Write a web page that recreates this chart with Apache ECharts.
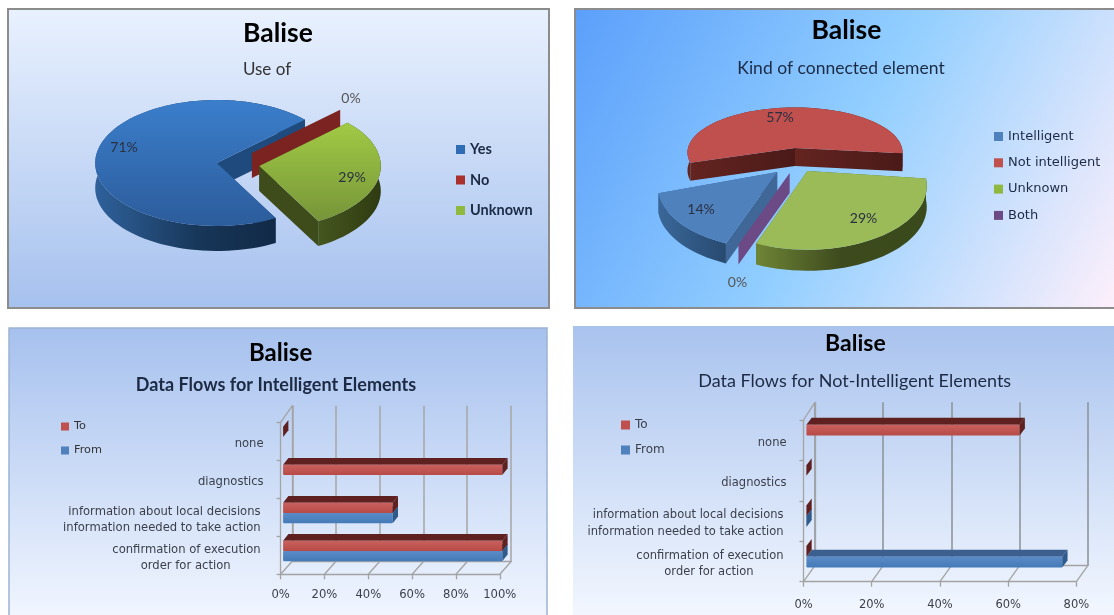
<!DOCTYPE html>
<html><head><meta charset="utf-8">
<style>html,body{margin:0;padding:0;background:#fff}#c{width:1114px;height:615px;filter:blur(0.5px)}</style>
<script src="https://cdn.jsdelivr.net/npm/echarts@6/dist/echarts.min.js"></script>
</head><body><div id="c"></div>
<script>
// ---- data ----
const useNames = ['Yes','No','Unknown'];
const useValues = [71,0,29];
const kindNames = ['Intelligent','Not intelligent','Unknown','Both'];
const kindValues = [14,57,29,0];
const flowCategories = ['confirmation of execution\norder for action','information about local decisions\ninformation needed to take action','diagnostics','none'];
const intelligentTo = [100,50,100,0];
const intelligentFrom = [100,50,null,null];
const notIntelligentTo = [0,0,0,62.5];
const notIntelligentFrom = [75,0,null,null];
const intelligentTicks = [0,20,40,60,80,100];
const notIntelligentTicks = [0,20,40,60,80];

const FONT='Lato', BAR='DejaVu Sans';
const BLUE='#4f81bd', RED='#c0504d', GREEN='#9bbb59', PURPLE='#6b4a86';
const lin=(x,y,x2,y2,a,b,c)=>({type:'linear',x,y,x2,y2,colorStops:c?[{offset:0,color:a},{offset:.5,color:b},{offset:1,color:c}]:[{offset:0,color:a},{offset:1,color:b}]});

function pieSeries(name,value,names,values,first,g){
  const total=values.reduce((a,b)=>a+b,0);
  const i=names.indexOf(name);
  const before=values.slice(0,i).reduce((a,b)=>a+b,0);
  return {type:'custom',name,coordinateSystem:'none',silent:true,
    itemStyle:{color:g.legend},data:[[value]],
    renderItem(params,api){
      const v=api.value(0);
      const a0=first+360*before/total, a1=a0+360*v/total;
      const P=t=>{const r=t*Math.PI/180,u=Math.sin(r),w=-Math.cos(r),s=1+g.p*w;return [g.apex[0]+g.rx*u*s,g.apex[1]+g.ry*w*s];};
      const arc=[];const n=Math.max(1,Math.ceil((a1-a0)/3));
      for(let k=0;k<=n;k++)arc.push(P(a0+(a1-a0)*k/n));
      const d=g.depth, dn=p=>[p[0],p[1]+d];
      const wall=(t)=>{const p=P(t);return {type:'polygon',shape:{points:[g.apex,p,dn(p),dn(g.apex)]},style:{fill:g.wall}};};
      const sin=t=>Math.sin(t*Math.PI/180);
      const kids=[];
      if(v>0){
        // walls facing away go under the rim, walls facing the viewer go over it
        if(sin(a0)>0)kids.push(wall(a0));
        if(sin(a1)<0)kids.push(wall(a1));
        kids.push({type:'polygon',shape:{points:arc.concat(arc.slice().reverse().map(dn))},style:{fill:g.side}});
        if(sin(a0)<=0)kids.push(wall(a0));
        if(sin(a1)>=0)kids.push(wall(a1));
        kids.push({type:'polygon',shape:{points:[g.apex].concat(arc)},style:{fill:g.top}});
      } else {
        kids.push(wall(a0));
      }
      kids.push({type:'text',z2:20,style:{text:v+'%',x:g.label[0],y:g.label[1],align:'center',verticalAlign:'middle',font:'14px '+FONT,fill:g.labelColor||'#2a3040'}});
      return {type:'group',children:kids};
    }};
}

function barSeries(name,values,xi,yi,b,isTo){
  const c=isTo?{f:RED,t:'#5f211f',s:'#5f211f'}:{f:BLUE,t:'#3b5f8f',s:'#2f5a8c'};
  return {type:'custom',name,coordinateSystem:'cartesian2d',xAxisIndex:xi,yAxisIndex:yi,silent:true,z:5,
    itemStyle:{color:c.f},encode:{x:0,y:1},data:values.map((v,i)=>[v,i]),
    renderItem(params,api){
      const v=api.value(0);
      if(isNaN(v))return null;
      const i=api.value(1);
      const p0=api.coord([0,i]),p1=api.coord([v,i]);
      const x0=p0[0]+b.xoff,x1=p1[0]+b.xoff,top=p0[1]+b.off-(isTo?b.h:0),bot=top+b.h;
      const kids=[];
      if(v>0){
        kids.push({type:'polygon',shape:{points:[[x0,top],[x0+b.dx,top-b.dy],[x1+b.dx,top-b.dy],[x1,top]]},style:{fill:c.t}});
        kids.push({type:'rect',shape:{x:x0,y:top,width:x1-x0,height:b.h,r:1},style:{fill:lin(0,0,0,1,isTo?'#c9615e':'#5a8bc6',isTo?'#b84a47':'#447ab8')}});
      }
      kids.push({type:'polygon',shape:{points:[[x1,top],[x1+b.dx,top-b.dy],[x1+b.dx,bot-b.dy],[x1,bot]]},style:{fill:c.s}});
      return {type:'group',children:kids};
    }};
}

function floorSeries(ticks,xi,yi,dBottom,dTop){
  return {type:'custom',name:'floor',coordinateSystem:'cartesian2d',xAxisIndex:xi,yAxisIndex:yi,silent:true,z:1,
    data:ticks.map(t=>[t,0]),encode:{x:0,y:1},
    renderItem(params,api){
      const cs=params.coordSys;
      const x=api.coord([api.value(0),0])[0];
      const st={stroke:'#a3a3a3',lineWidth:1.3};
      const kids=[{type:'line',shape:{x1:x,y1:cs.y+cs.height,x2:x+dBottom[0],y2:cs.y+cs.height+dBottom[1]},style:st}];
      if(params.dataIndex===0)kids.push({type:'line',shape:{x1:x,y1:cs.y,x2:x+dTop[0],y2:cs.y+dTop[1]},style:st});
      return {type:'group',children:kids};
    }};
}

function catLabel(s){
  if(s.indexOf('\n')<0)return s;
  const p=s.split('\n');
  if(s.indexOf('order for')>=0)return '{a|'+p[0]+'}\n{b|'+p[1]+'}';
  return '{a|'+p[0]+'}\n{a|'+p[1]+'}';
}
const grey='#a3a3a3';
function axesFor(g,max,labelFont,gridsOut,xOut,yOut,txtColor,rightPad){
  const gi=gridsOut.length;
  gridsOut.push({left:g.f[0],top:g.f[2],width:g.f[1]-g.f[0],height:g.f[3]-g.f[2]});
  gridsOut.push({left:g.b[0],top:g.b[2],width:g.b[1]-g.b[0],height:g.b[3]-g.b[2]});
  xOut.push({type:'value',gridIndex:gi,min:0,max,interval:20,
    axisLine:{show:true,lineStyle:{color:grey,width:1.3}},axisTick:{show:true,length:5,lineStyle:{color:grey,width:1.3}},splitLine:{show:false},
    axisLabel:{margin:g.xm,formatter:'{value}%',color:txtColor,fontFamily:labelFont,fontSize:g.fs,hideOverlap:false,showMinLabel:true,showMaxLabel:true}});
  xOut.push({type:'value',gridIndex:gi+1,min:0,max,interval:20,
    axisLine:{show:true,lineStyle:{color:grey,width:1.3}},axisTick:{show:false},axisLabel:{show:false},
    splitLine:{show:true,showMinLine:true,showMaxLine:true,lineStyle:{color:g.gridColor,width:1.6}}});
  yOut.push({type:'category',gridIndex:gi,data:flowCategories,
    axisLine:{show:true,onZero:false,lineStyle:{color:grey,width:1.3}},axisTick:{show:true,length:4,lineStyle:{color:grey,width:1.3}},
    axisLabel:{margin:g.ym,color:txtColor,fontFamily:labelFont,fontSize:g.fs,lineHeight:g.lh,interval:0,align:'right',padding:[5,0,0,0],
      formatter:catLabel,rich:{a:{fontFamily:labelFont,fontSize:g.fs,color:txtColor,lineHeight:g.lh,padding:[0,3,0,0]},b:{fontFamily:labelFont,fontSize:g.fs,color:txtColor,lineHeight:g.lh,padding:[0,rightPad+3,0,0]}}}});
  yOut.push({type:'category',gridIndex:gi+1,data:flowCategories,
    axisLine:{show:true,onZero:false,lineStyle:{color:grey,width:1.3}},axisTick:{show:false},axisLabel:{show:false}});
  return gi;
}

const grids=[],xAxes=[],yAxes=[];
const g3={f:[280.6,499.8,422.3,574.3],b:[292.4,510.8,405.7,561],xm:15,ym:17,fs:11.6,lh:16,gridColor:'#a9a9a9'};
const g4={f:[803.5,1076.4,420,581.7],b:[814.9,1088,402.3,565.7],xm:17,ym:17,fs:11.5,lh:16.5,gridColor:'#8f959c'};
const i3=axesFor(g3,100,BAR,grids,xAxes,yAxes,'#3a3f4a',30);
const i4=axesFor(g4,80,BAR,grids,xAxes,yAxes,'#3a3f4a',30);
const b3={xoff:2.5,off:-4.3,h:10.3,dx:5.3,dy:6.7};
const b4={xoff:2.9,off:-4.8,h:10.7,dx:5.3,dy:7};

const series=[
  pieSeries('Yes',useValues[0],useNames,useValues,151,{apex:[216.7,163],rx:121.5,ry:63,p:0,depth:25,legend:'#2f6cb4',
    top:lin(0,0,0,1,'#3b7ecb','#2c5c9b'),side:lin(0,0,1,0,'#2f619b','#173658','#0f2440'),wall:'#1f4a7d',label:[124,147]}),
  pieSeries('No',useValues[1],useNames,useValues,151,{apex:[251.9,153],rx:121.5,ry:63,p:0,depth:25,legend:'#a9302c',
    top:'#b23a36',side:'#7a2320',wall:'#7a2320',label:[351,98],labelColor:'#555'}),
  pieSeries('Unknown',useValues[2],useNames,useValues,151,{apex:[259.3,166],rx:121.5,ry:63,p:0,depth:25,legend:'#8fb83e',
    top:lin(0,0,0,1,'#a2ca45','#769539'),side:lin(0,0,1,0,'#45561f','#2f3b11'),wall:'#3d4c1a',label:[352,177]}),
  pieSeries('Not intelligent',kindValues[1],kindNames,kindValues,201,{apex:[795,148],rx:107,ry:45,p:.1,depth:18,legend:RED,
    top:RED,side:lin(0,0,1,0,'#642420','#4a1a18'),wall:lin(0,0,1,0,'#642420','#4a1a18'),label:[780,117]}),
  pieSeries('Intelligent',kindValues[0],kindNames,kindValues,201,{apex:[777.2,172],rx:116,ry:62,p:.25,depth:20,legend:BLUE,
    top:BLUE,side:lin(0,0,1,0,'#3a6798','#284a70'),wall:'#3f6797',label:[701,209]}),
  pieSeries('Both',kindValues[3],kindNames,kindValues,201,{apex:[789.7,173],rx:116,ry:62,p:.25,depth:20,legend:PURPLE,
    top:PURPLE,side:PURPLE,wall:PURPLE,label:[737.5,282],labelColor:'#555'}),
  pieSeries('Unknown',kindValues[2],kindNames,kindValues,201,{apex:[807.4,171],rx:116,ry:63,p:.25,depth:21,legend:GREEN,
    top:GREEN,side:lin(0,0,1,0,'#6f8536','#3d4a1d','#3a4a1b'),wall:'#5c7029',label:[863.6,218]}),
  floorSeries(intelligentTicks,i3,i3,[g3.b[0]-g3.f[0],g3.b[3]-g3.f[3]],[g3.b[0]-g3.f[0],g3.b[2]-g3.f[2]]),
  floorSeries(notIntelligentTicks,i4,i4,[g4.b[0]-g4.f[0],g4.b[3]-g4.f[3]],[g4.b[0]-g4.f[0],g4.b[2]-g4.f[2]]),
  barSeries('From',intelligentFrom,i3,i3,b3,false),
  barSeries('To',intelligentTo,i3,i3,b3,true),
  barSeries('From',notIntelligentFrom,i4,i4,b4,false),
  barSeries('To',notIntelligentTo,i4,i4,b4,true)
];

const title=(text,x,y,size,weight,color,font)=>({text,left:x,top:y,textAlign:'center',padding:0,
  textStyle:{fontFamily:font||FONT,fontSize:size,fontWeight:weight,color:color||'#000',lineHeight:size}});
const titles=[
  title('Balise',278,20,26.5,'bold'),
  title('Use of',267,61,17,'normal','#333'),
  title('Balise',846.5,17,26.5,'bold'),
  title('Kind of connected element',841,60,17.5,'normal','#1c2a44'),
  title('Balise',280.6,341,24,'bold'),
  title('Data Flows for Intelligent Elements',276,376,18,'bold','#1c2a44'),
  title('Balise',855.4,332,23,'bold'),
  title('Data Flows for Not-Intelligent Elements',854.7,372,18,'normal','#1c2a44')
];
const legend=(data,left,top,size,gap,font,fs,weight,color)=>({data,orient:'vertical',left,top,itemWidth:size,itemHeight:size,itemGap:gap,padding:0,icon:'rect',selectedMode:false,
  textStyle:{fontFamily:font,fontSize:fs,fontWeight:weight,color:color||'#1c2a44',padding:[0,0,0,0]}});
const panel=(x,y,w,h,fill,stroke,lw)=>({type:'rect',z:-5,silent:true,shape:{x,y,width:w,height:h},style:{fill,stroke,lineWidth:lw}});

const option={
  animation:false,
  backgroundColor:'#fff',
  title:titles,
  legend:[
    legend(useNames,456,142,9,15.5,FONT,14.5,'bold'),
    legend(kindNames,994,130,9,13.3,BAR,13,'normal'),
    legend(['To','From'],61,421,8,13,BAR,11.3,'normal','#333'),
    legend(['To','From'],621,419,9,13,BAR,12,'normal','#3a3f4a')
  ],
  grid:grids,xAxis:xAxes,yAxis:yAxes,series,
  graphic:{elements:[
    panel(8,9,541,299,lin(0,0,0,1,'#e9f1fe','#a6c1ee'),'#8c8c8c',2),
    panel(575,9,541,299,lin(0,0,1,1,'#5b9ffb','#93cfff','#fff0fb'),'#8c8c8c',2),
    panel(9,328,538,300,lin(0,0,0,1,'#a6c1ee','#f4f8ff'),'#9db2d4',1.5),
    panel(573,326,545,295,lin(0,0,0,1,'#a9c3ee','#f4f8ff'),null,0)
  ]}
};
echarts.init(document.getElementById('c'),null,{renderer:'canvas'}).setOption(option);
</script></body></html>
